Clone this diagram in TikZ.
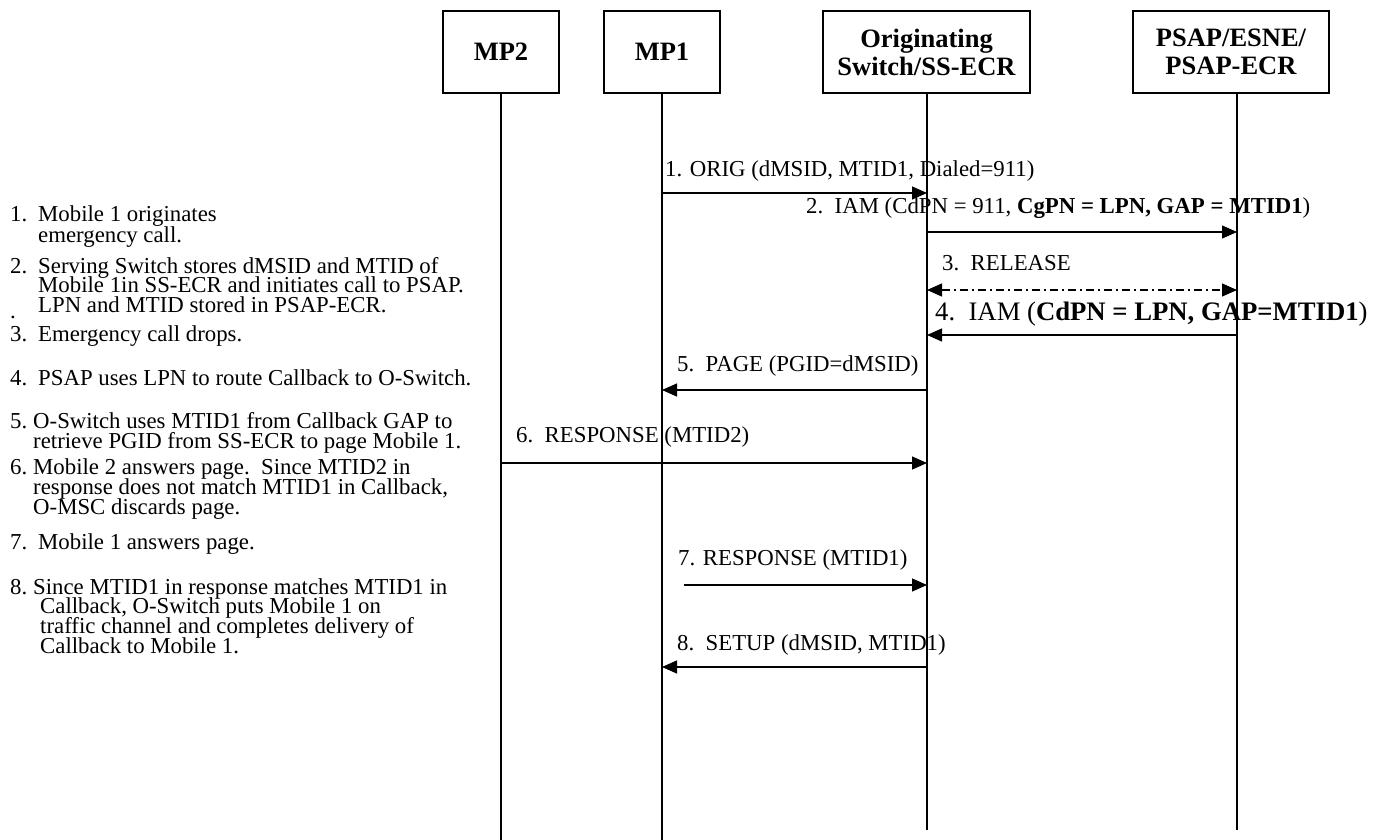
\documentclass[tikz,border=0pt]{standalone}
\usepackage{fontspec}
\setmainfont{Liberation Serif}
\usetikzlibrary{arrows.meta}
\begin{document}
\begin{tikzpicture}[x=1pt,y=-1pt,
  actor/.style={draw,line width=1.3pt,minimum height=82pt,inner sep=0pt,align=center,
    font=\fontsize{26.5}{28}\selectfont\bfseries},
  life/.style={line width=1.2pt},
  msg/.style={line width=1.3pt,-{Triangle[length=15pt,width=13pt]}},
  relmsg/.style={line width=1.3pt,{Triangle[length=15pt,width=13pt]}-{Triangle[length=15pt,width=13pt]},
    dash pattern=on 8pt off 4pt on 2pt off 4pt},
  lbl/.style={anchor=base west,inner sep=0pt,font=\fontsize{22.8}{20}\selectfont},
  biglbl/.style={anchor=base west,inner sep=0pt,font=\fontsize{26.7}{27}\selectfont},
]
\useasboundingbox (0,0) rectangle (1385,840);

% entity boxes
\node[actor,minimum width=116pt] (mp2) at (501,52) {MP2};
\node[actor,minimum width=116pt] (mp1) at (662,52) {MP1};
\node[actor,minimum width=207pt] (org) at (926.5,52) {Originating\\Switch/SS-ECR};
\node[actor,minimum width=196pt] (psap) at (1231,52) {PSAP/ESNE/\\PSAP-ECR};

% lifelines
\coordinate (mp2t) at (501,93);   \coordinate (mp2e) at (501,840);
\coordinate (mp1t) at (662,93);   \coordinate (mp1e) at (662,840);
\coordinate (orgt) at (927,93);   \coordinate (orge) at (927,830);
\coordinate (psapt) at (1237,93); \coordinate (psape) at (1237,830);
\draw[life] (mp2t) -- (mp2e);
\draw[life] (mp1t) -- (mp1e);
\draw[life] (orgt) -- (orge);
\draw[life] (psapt) -- (psape);

% message rows
\coordinate (r1) at (0,193);
\coordinate (r2) at (0,232);
\coordinate (r3) at (0,290);
\coordinate (r4) at (0,335);
\coordinate (r5) at (0,390);
\coordinate (r6) at (0,463);
\coordinate (r7) at (0,585);
\coordinate (r8) at (0,667);
\coordinate (s7) at (684,585);

% messages
\draw[msg] (mp1t |- r1) -- (orgt |- r1);
\draw[msg] (orgt |- r2) -- (psapt |- r2);
\draw[relmsg] (orgt |- r3) -- (psapt |- r3);
\draw[msg] (psapt |- r4) -- (orgt |- r4);
\draw[msg] (orgt |- r5) -- (mp1t |- r5);
\draw[msg] (mp2t |- r6) -- (orgt |- r6);
\draw[msg] (s7) -- (orgt |- r7);
\draw[msg] (orgt |- r8) -- (mp1t |- r8);

% message labels
\node[lbl] (m1) at (665,177) {1. ORIG (dMSID, MTID1, Dialed=911)};
\node[lbl] (m2) at (806,214) {2.\ \ IAM (CdPN = 911, \textbf{CgPN = LPN, GAP = MTID1})};
\node[lbl] (m3) at (942,270) {3.\ \ RELEASE};
\node[biglbl] (m4) at (935,320) {4.\ \ IAM (\textbf{CdPN = LPN, GAP=MTID1})};
\node[lbl] (m5) at (677,371) {5.\ \ PAGE (PGID=dMSID)};
\node[lbl] (m6) at (516,442) {6.\ \ RESPONSE (MTID2)};
\node[lbl] (m7) at (678,565) {7. RESPONSE (MTID1)};
\node[lbl] (m8) at (677,650) {8.\ \ SETUP (dMSID, MTID1)};

% step descriptions
\node[lbl] (n1) at (10,222) {1.};
\node[lbl] (t1a) at (38,222) {Mobile 1 originates};
\node[lbl] (t1b) at (38,242) {emergency call.};
\node[lbl] (n2) at (10,273) {2.};
\node[lbl] (t2a) at (38,273) {Serving Switch stores dMSID and MTID of};
\node[lbl] (t2b) at (38,292) {Mobile 1in SS-ECR and initiates call to PSAP.};
\node[lbl] (t2c) at (38,312) {LPN and MTID stored in PSAP-ECR.};
\node[lbl] (dot) at (10,318) {.};
\node[lbl] (n3) at (10,341) {3.};
\node[lbl] (t3) at (38,341) {Emergency call drops.};
\node[lbl] (n4) at (10,385) {4.};
\node[lbl] (t4) at (38,385) {PSAP uses LPN to route Callback to O-Switch.};
\node[lbl] (n5) at (10,428) {5.};
\node[lbl] (t5a) at (33,428) {O-Switch uses MTID1 from Callback GAP to};
\node[lbl] (t5b) at (33,448) {retrieve PGID from SS-ECR to page Mobile 1.};
\node[lbl] (n6) at (10,474) {6.};
\node[lbl] (t6a) at (33,474) {Mobile 2 answers page.\ \ Since MTID2 in};
\node[lbl] (t6b) at (33,494) {response does not match MTID1 in Callback,};
\node[lbl] (t6c) at (33,514) {O-MSC discards page.};
\node[lbl] (n7) at (10,549) {7.};
\node[lbl] (t7) at (38,549) {Mobile 1 answers page.};
\node[lbl] (n8) at (10,594) {8.};
\node[lbl] (t8a) at (33,594) {Since MTID1 in response matches MTID1 in};
\node[lbl] (t8b) at (40,613) {Callback, O-Switch puts Mobile 1 on};
\node[lbl] (t8c) at (40,633) {traffic channel and completes delivery of};
\node[lbl] (t8d) at (40,653) {Callback to Mobile 1.};
\end{tikzpicture}
\end{document}
